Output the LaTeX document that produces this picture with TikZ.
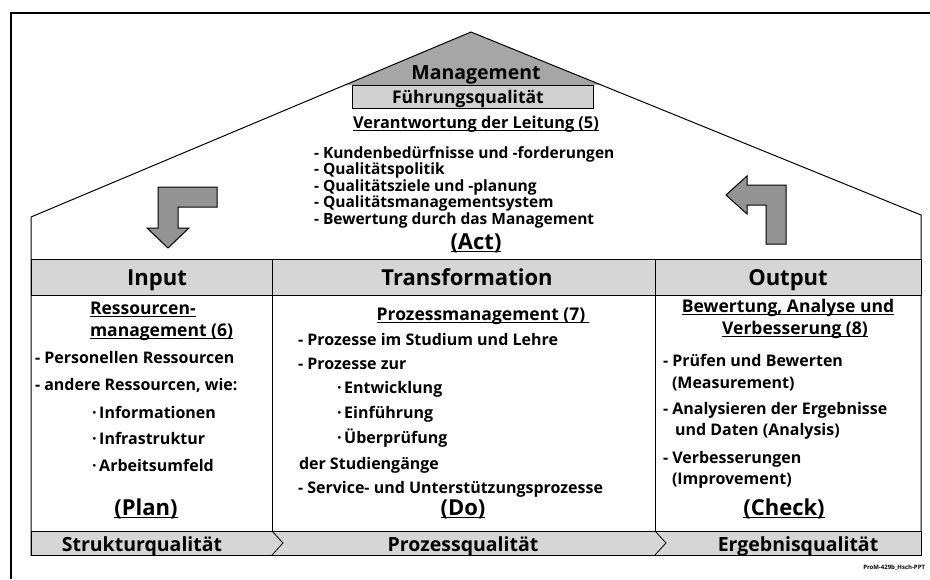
\documentclass[tikz,border=0pt]{standalone}
\usepackage{fontspec}
\setmainfont{Open Sans}
\begin{document}
\begin{tikzpicture}[x=1pt,y=-1pt,
  every node/.style={inner sep=0pt, outer sep=0pt},
  body/.style={font=\bfseries\fontsize{16}{18}\selectfont, anchor=base west},
  rooflist/.style={font=\bfseries\fontsize{15.5}{17}\selectfont, anchor=base west},
  sub/.style={font=\bfseries\fontsize{17.5}{20}\selectfont, anchor=base},
  head/.style={font=\bfseries\fontsize{22}{24}\selectfont, anchor=base},
  qual/.style={font=\bfseries\fontsize{19.5}{22}\selectfont, anchor=base},
  tiny/.style={font=\bfseries\fontsize{6}{7}\selectfont, anchor=base east},
  line/.style={draw=black, line width=1pt},
  bandfill/.style={fill=black!16},
  rooffill/.style={fill=black!35},
  bentarrow/.style={fill=black!42, draw=black, line width=1pt, line join=miter},
  uline/.style={draw=black, line width=1.1pt},
]
\useasboundingbox (0,0) rectangle (930,579);

% outer frame (top and left edges)
\draw[line width=1.3pt] (11,579) -- (11,13) -- (930,13);

% shaded gable with the management box
\fill[rooffill] (345,85) -- (471,32) -- (601,85) -- cycle;
\node[draw=black, line width=0.9pt, fill=black!18, minimum width=241pt, minimum height=23pt, anchor=north west] (fqbox) at (352,85) {};

% house outline
\draw[line, line join=miter] (31,555) -- (31,217) -- (471,32) -- (921,215) -- (921,555) -- cycle;

% header band and bottom band
\draw[line, bandfill] (31,259) rectangle (921,295);
\draw[line, bandfill] (31,531) rectangle (921,555);

% column dividers
\draw[line] (272,259) -- (272,531);
\draw[line] (655,259) -- (655,531);

% chevrons in the bottom band
\draw[line width=0.8pt] (272,531) -- (283,543) -- (272,555);
\draw[line width=0.8pt] (655,531) -- (666,543) -- (655,555);

% bent arrows
\draw[bentarrow] (158,187) -- (217,187) -- (217,207) -- (178,207) -- (178,228)
  -- (189,228) -- (168,248) -- (147,228) -- (158,228) -- cycle;
\draw[bentarrow] (766,244) -- (786,244) -- (786,185) -- (747,185) -- (747,176)
  -- (726,195) -- (747,214) -- (747,205) -- (766,205) -- cycle;

% roof texts
\node[head, font=\bfseries\fontsize{19.5}{22}\selectfont] (mgmt) at (476,79) {Management};
\node[sub, font=\bfseries\fontsize{17.5}{20}\selectfont] (fq) at (468,103) {Führungsqualität};
\node[sub, font=\bfseries\fontsize{16.3}{19}\selectfont] (resp) at (476,128) {Verantwortung der Leitung (5)};
\draw[uline] ([yshift=-2.5pt]resp.base west) -- ([yshift=-2.5pt]resp.base east);
\node[rooflist] (r1) at (314,158) {- Kundenbedürfnisse und -forderungen};
\node[rooflist] (r2) at (314,174.5) {- Qualitätspolitik};
\node[rooflist] (r3) at (314,191) {- Qualitätsziele und -planung};
\node[rooflist] (r4) at (314,207.5) {- Qualitätsmanagementsystem};
\node[rooflist] (r5) at (314,224) {- Bewertung durch das Management};
\node[head] (act) at (476,249) {(Act)};
\draw[uline] ([yshift=-2.5pt]act.base west) -- ([yshift=-2.5pt]act.base east);

% header band texts
\node[head] (input) at (157,285) {Input};
\node[head] (trans) at (467,285) {Transformation};
\node[head] (output) at (788,285) {Output};

% left column
\node[sub, anchor=base west] (res1) at (90,314) {Ressourcen-};
\draw[uline] ([yshift=-2.5pt]res1.base west) -- ([yshift=-2.5pt]res1.base east);
\node[sub, anchor=base west] (res2) at (90,336) {management (6)};
\draw[uline] ([yshift=-2.5pt]res2.base west) -- ([yshift=-2.5pt]res2.base east);
\node[body] (l1) at (35,363) {- Personellen Ressourcen};
\node[body] (l2) at (35,390) {- andere Ressourcen, wie:};
\node[body] (l3) at (92,418) {·\,Informationen};
\node[body] (l4) at (92,444) {·\,Infrastruktur};
\node[body] (l5) at (92,471) {·\,Arbeitsumfeld};
\node[head] (plan) at (146,515) {(Plan)};
\draw[uline] ([yshift=-2.5pt]plan.base west) -- ([yshift=-2.5pt]plan.base east);

% middle column
\node[sub] (proc) at (481,320) {Prozessmanagement (7)};
\draw[uline] ([yshift=-2.5pt]proc.base west) -- ([yshift=-2.5pt,xshift=4pt]proc.base east);
\node[body] (m1) at (298,345) {- Prozesse im Studium und Lehre};
\node[body] (m2) at (298,369) {- Prozesse zur};
\node[body] (m3) at (337,393) {·\,Entwicklung};
\node[body] (m4) at (337,418) {·\,Einführung};
\node[body] (m5) at (337,443) {·\,Überprüfung};
\node[body] (m6) at (299,469) {der Studiengänge};
\node[body] (m7) at (298,493) {- Service- und Unterstützungsprozesse};
\node[head] (do) at (463,515) {(Do)};
\draw[uline] ([yshift=-2.5pt]do.base west) -- ([yshift=-2.5pt]do.base east);

% right column
\node[sub] (eval1) at (788,312) {Bewertung, Analyse und};
\draw[uline] ([yshift=-2.5pt]eval1.base west) -- ([yshift=-2.5pt]eval1.base east);
\node[sub] (eval2) at (795,334) {Verbesserung (8)};
\draw[uline] ([yshift=-2.5pt]eval2.base west) -- ([yshift=-2.5pt]eval2.base east);
\node[body] (o1) at (663,366) {- Prüfen und Bewerten};
\node[body] (o2) at (672,388) {(Measurement)};
\node[body] (o3) at (663,414) {- Analysieren der Ergebnisse};
\node[body] (o4) at (675,435) {und Daten (Analysis)};
\node[body] (o5) at (663,463) {- Verbesserungen};
\node[body] (o6) at (672,484) {(Improvement)};
\node[head] (check) at (784,515) {(Check)};
\draw[uline] ([yshift=-2.5pt]check.base west) -- ([yshift=-2.5pt]check.base east);

% bottom band texts
\node[qual] (q1) at (142,551) {Strukturqualität};
\node[qual] (q2) at (463,551) {Prozessqualität};
\node[qual] (q3) at (798,551) {Ergebnisqualität};

\node[tiny] (ref) at (925,569) {ProM-429b\_Hsch-PPT};
\end{tikzpicture}
\end{document}
